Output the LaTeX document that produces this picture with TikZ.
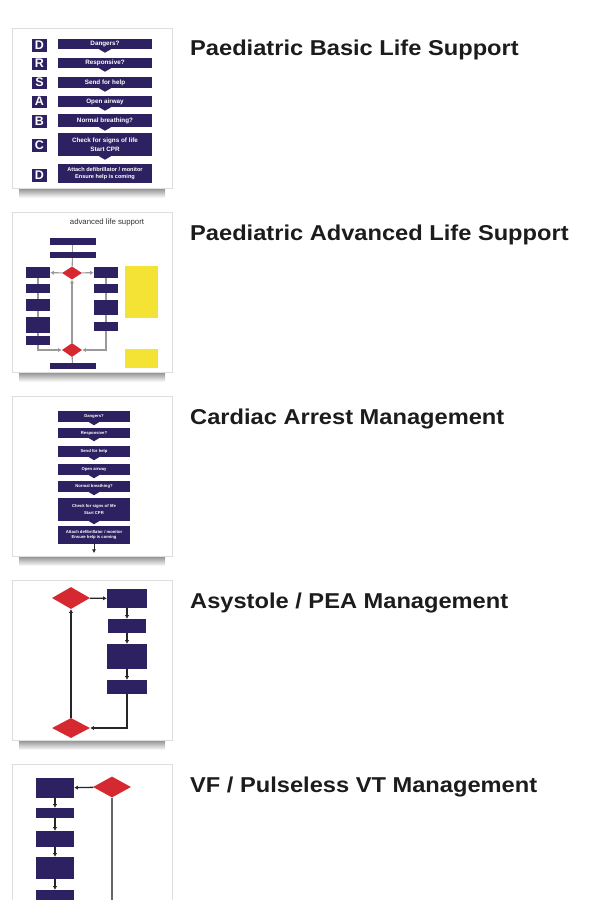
\documentclass[tikz,border=0pt]{standalone}
\usepackage{fontspec}
\setmainfont{Liberation Sans}
\usetikzlibrary{shapes.geometric,arrows.meta,calc}
\definecolor{navy}{HTML}{2E2161}
\definecolor{dred}{HTML}{D62830}
\definecolor{ylw}{HTML}{F4E234}
\definecolor{ttl}{HTML}{1C1C1C}
\definecolor{lgray}{HTML}{9A9A9A}
\begin{document}
\begin{tikzpicture}[x=1pt,y=-1pt,
  frame/.style={draw=black!13, fill=white, line width=0.8pt, anchor=north west,
    minimum width=160pt, minimum height=160pt, inner sep=0pt},
  pbox/.style={fill=navy, draw=none, text=white, inner sep=0pt, align=center,
    font=\bfseries\fontsize{6.3}{6.6}\selectfont},
  lbox/.style={fill=navy, draw=none, text=white, inner sep=0pt, minimum width=15pt,
    font=\bfseries\fontsize{12.5}{12.5}\selectfont},
  tbox/.style={fill=navy, draw=none, text=white, inner sep=0pt, align=center,
    font=\bfseries\fontsize{4.2}{4.6}\selectfont},
  sbox/.style={fill=navy, draw=none, inner sep=0pt},
  rdiam/.style={diamond, fill=dred, draw=none, inner sep=0pt},
  ybox/.style={fill=ylw, draw=none, inner sep=0pt},
  title/.style={anchor=base west, inner sep=0pt, text=ttl,
    font=\bfseries\fontsize{21.5}{24}\selectfont},
  gline/.style={draw=lgray, line width=1.1pt},
  bline/.style={draw=black!85, line width=1.3pt},
  tip/.style={-{Latex[length=3.6pt,width=4.2pt]}},
  shadowband/.style={top color=black!45, bottom color=white, draw=none}
]
\useasboundingbox (0,0) rectangle (599,900);
\fill[white] (0,0) rectangle (599,900);

% ---------- shadows ----------
\foreach \yy in {188,372,556,740}{
  \shade[shadowband] (19,\yy) rectangle (165,\yy+10);
}

% ---------- frames ----------
\node[frame] (f1) at (12,28) {};
\node[frame] (f2) at (12,212) {};
\node[frame] (f3) at (12,396) {};
\node[frame] (f4) at (12,580) {};
\node[frame, minimum height=150pt] (f5) at (12,764) {};

% ---------- titles ----------
\node[title] (t1) at (190,55.5) {\scalebox{1.1}[1]{Paediatric Basic Life Support}};
\node[title] (t2) at (190,240) {\scalebox{1.1}[1]{Paediatric Advanced Life Support}};
\node[title] (t3) at (190,424) {\scalebox{1.1}[1]{Cardiac Arrest Management}};
\node[title] (t4) at (190,608) {\scalebox{1.1}[1]{Asystole / PEA Management}};
\node[title] (t5) at (190,792) {\scalebox{1.1}[1]{VF / Pulseless VT Management}};

% ---------- thumb 1: DRSABCD ----------
\node[lbox, minimum height=13pt] (l1) at (39.5,45) {D};
\node[lbox, minimum height=12pt] (l2) at (39.5,63.5) {R};
\node[lbox, minimum height=12pt] (l3) at (39.5,82.5) {S};
\node[lbox, minimum height=12pt] (l4) at (39.5,101.5) {A};
\node[lbox, minimum height=13pt] (l5) at (39.5,121) {B};
\node[lbox, minimum height=13pt] (l6) at (39.5,145.5) {C};
\node[lbox, minimum height=13pt] (l7) at (39.5,175) {D};

\node[pbox, minimum width=94pt, minimum height=10pt] (r1) at (105,44) {Dangers?};
\node[pbox, minimum width=94pt, minimum height=10pt] (r2) at (105,63) {Responsive?};
\node[pbox, minimum width=94pt, minimum height=11pt] (r3) at (105,82.5) {Send for help};
\node[pbox, minimum width=94pt, minimum height=11pt] (r4) at (105,101.5) {Open airway};
\node[pbox, minimum width=94pt, minimum height=13pt] (r5) at (105,120.5) {Normal breathing?};
\node[pbox, minimum width=94pt, minimum height=23pt] (r6) at (105,144.5) {Check for signs of life\\[2.5pt]Start CPR};
\node[pbox, minimum width=94pt, minimum height=19pt, font=\bfseries\fontsize{5.6}{7}\selectfont] (r7) at (105,173.5) {Attach defibrillator / monitor\\Ensure help is coming};
\foreach \n in {r1,r2,r3,r4,r5,r6}{
  \fill[navy] ($(\n.south)+(-6,0)$) -- ($(\n.south)+(6,0)$) -- ($(\n.south)+(0,3.5)$) -- cycle;
}

% ---------- thumb 2: advanced life support ----------
\node[anchor=center, inner sep=0pt, text=black!80, font=\fontsize{7.8}{8}\selectfont] (a0) at (107,222) {advanced life support};
\node[sbox, minimum width=46pt, minimum height=7pt] (a1) at (72.5,241.5) {};
\node[sbox, minimum width=46pt, minimum height=6pt] (a2) at (72.5,255) {};
\node[rdiam, minimum width=20pt, minimum height=13pt] (ad1) at (72,273) {};
\node[sbox, minimum width=24pt, minimum height=11pt] (al1) at (38,272.5) {};
\node[sbox, minimum width=24pt, minimum height=9pt] (al2) at (38,288.5) {};
\node[sbox, minimum width=24pt, minimum height=12pt] (al3) at (38,305) {};
\node[sbox, minimum width=24pt, minimum height=16pt] (al4) at (38,325) {};
\node[sbox, minimum width=24pt, minimum height=9pt] (al5) at (38,340.5) {};
\node[sbox, minimum width=24pt, minimum height=11pt] (ar1) at (106,272.5) {};
\node[sbox, minimum width=24pt, minimum height=9pt] (ar2) at (106,288.5) {};
\node[sbox, minimum width=24pt, minimum height=15pt] (ar3) at (106,307.5) {};
\node[sbox, minimum width=24pt, minimum height=9pt] (ar4) at (106,326.5) {};
\node[rdiam, minimum width=20pt, minimum height=14pt] (ad2) at (72,350) {};
\node[sbox, minimum width=46pt, minimum height=6pt] (a3) at (72.5,366) {};
\node[ybox, minimum width=33pt, minimum height=52pt] (ay1) at (141.5,292) {};
\node[ybox, minimum width=33pt, minimum height=19pt] (ay2) at (141.5,358.5) {};
\draw[gline] (a1) -- (a2);
\draw[gline] (a2) -- (ad1);
\draw[gline, tip] (ad1) -- (al1);
\draw[gline, tip] (ad1) -- (ar1);
\draw[gline] (al1) -- (al2);
\draw[gline] (al2) -- (al3);
\draw[gline] (al3) -- (al4);
\draw[gline] (al4) -- (al5);
\draw[gline] (ar1) -- (ar2);
\draw[gline] (ar2) -- (ar3);
\draw[gline] (ar3) -- (ar4);
\draw[gline, tip] (al5.south) |- (ad2.west);
\draw[gline, tip] (ar4.south) |- (ad2.east);
\draw[gline, tip] (ad2) -- (ad1);
\draw[gline] (ad2) -- (a3);

% ---------- thumb 3: cardiac arrest ----------
\node[tbox, minimum width=72pt, minimum height=11pt] (c1) at (94,416.5) {Dangers?};
\node[tbox, minimum width=72pt, minimum height=10pt] (c2) at (94,433) {Responsive?};
\node[tbox, minimum width=72pt, minimum height=11pt] (c3) at (94,451.5) {Send for help};
\node[tbox, minimum width=72pt, minimum height=11pt] (c4) at (94,469.5) {Open airway};
\node[tbox, minimum width=72pt, minimum height=11pt] (c5) at (94,486.5) {Normal breathing?};
\node[tbox, minimum width=72pt, minimum height=23pt] (c6) at (94,509.5) {Check for signs of life\\[3pt]Start CPR};
\node[tbox, minimum width=72pt, minimum height=18pt] (c7) at (94,535) {Attach defibrillator / monitor\\[1pt]Ensure help is coming};
\foreach \n in {c1,c2,c3,c4,c5,c6}{
  \fill[navy] ($(\n.south)+(-5,0)$) -- ($(\n.south)+(5,0)$) -- ($(\n.south)+(0,3)$) -- cycle;
}
\coordinate (c8) at (94,553);
\draw[bline, line width=0.9pt, tip] (c7) -- (c8);

% ---------- thumb 4: asystole / PEA ----------
\node[rdiam, minimum width=38pt, minimum height=22pt] (p1) at (71,598) {};
\node[sbox, minimum width=40pt, minimum height=19pt] (pb1) at (127,598.5) {};
\node[sbox, minimum width=38pt, minimum height=14pt] (pb2) at (127,626) {};
\node[sbox, minimum width=40pt, minimum height=25pt] (pb3) at (127,656.5) {};
\node[sbox, minimum width=40pt, minimum height=14pt] (pb4) at (127,687) {};
\node[rdiam, minimum width=38pt, minimum height=20pt] (p2) at (71,728) {};
\draw[bline, tip] (p1) -- (pb1);
\draw[bline, tip] (pb1) -- (pb2);
\draw[bline, tip] (pb2) -- (pb3);
\draw[bline, tip] (pb3) -- (pb4);
\draw[bline, tip] (pb4.south) |- (p2.east);
\draw[bline, tip] (p2) -- (p1);

% ---------- thumb 5: VF / pulseless VT ----------
\node[sbox, minimum width=38pt, minimum height=20pt] (v1) at (55,788) {};
\node[rdiam, minimum width=38pt, minimum height=21pt] (vd) at (112,787) {};
\node[sbox, minimum width=38pt, minimum height=10pt] (v2) at (55,813) {};
\node[sbox, minimum width=38pt, minimum height=16pt] (v3) at (55,839) {};
\node[sbox, minimum width=38pt, minimum height=22pt] (v4) at (55,868) {};
\node[sbox, minimum width=38pt, minimum height=20pt] (v5) at (55,900) {};
\coordinate (v6) at (112,905);
\draw[bline, tip] (vd) -- (v1);
\draw[bline, tip] (v1) -- (v2);
\draw[bline, tip] (v2) -- (v3);
\draw[bline, tip] (v3) -- (v4);
\draw[bline, tip] (v4) -- (v5);
\draw[draw=black!60, line width=1.8pt] (vd) -- (v6);
\end{tikzpicture}
\end{document}
